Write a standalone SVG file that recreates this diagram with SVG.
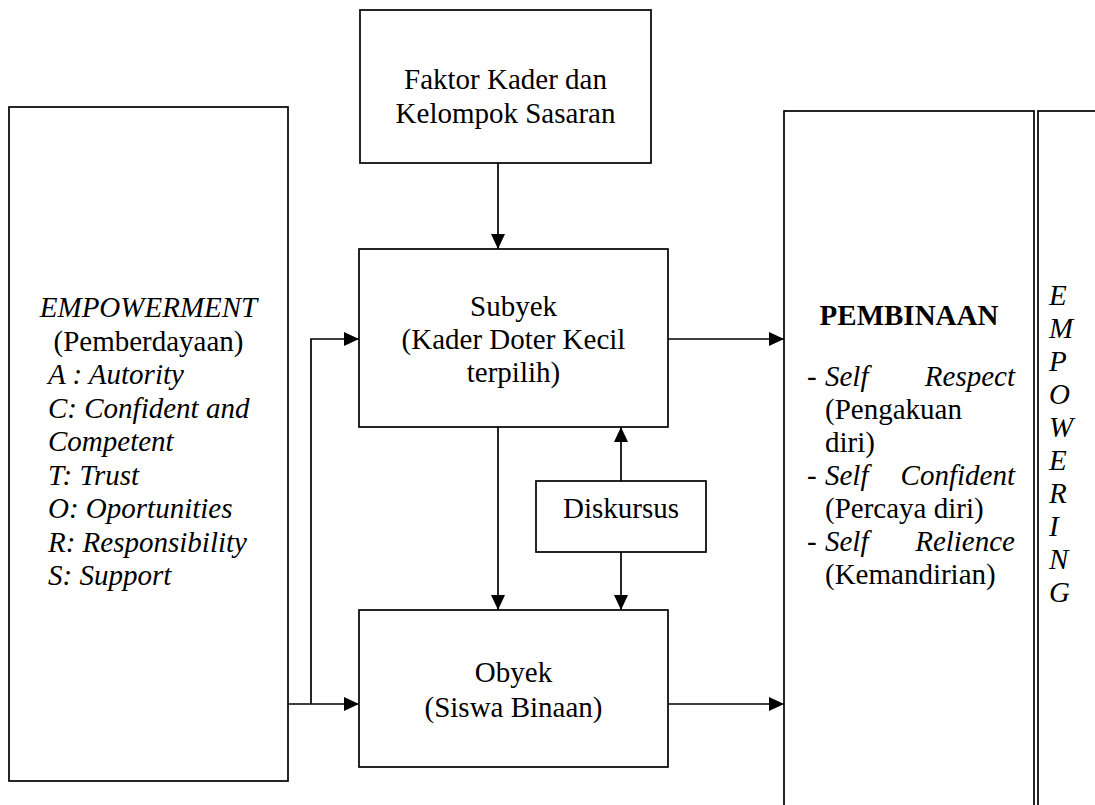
<svg xmlns="http://www.w3.org/2000/svg" width="1095" height="805" viewBox="0 0 1095 805">
<defs>
<marker id="ah" markerUnits="userSpaceOnUse" markerWidth="15" markerHeight="14" refX="15" refY="7" orient="auto">
<path d="M0,0 L15,7 L0,14 Z" fill="#000"/>
</marker>
<style>
.box{fill:#fff;stroke:#000;stroke-width:1.7}
.t{font-family:"Liberation Serif","Times New Roman",serif;font-size:29px;fill:#000}
.c{text-anchor:middle}
.i{font-style:italic}
.b{font-weight:bold}
.e{text-anchor:end}
.ln{fill:none;stroke:#000;stroke-width:1.7}
</style>
</defs>
<rect width="1095" height="805" fill="#fff"/>

<g id="empowerment">
<rect class="box" x="9" y="107" width="279" height="674"/>
<text class="t i c" x="148.5" y="317">EMPOWERMENT</text>
<text class="t c" x="148.5" y="350.5">(Pemberdayaan)</text>
<text class="t i" x="48" y="384">A : Autority</text>
<text class="t i" x="48" y="417.5">C: Confident and</text>
<text class="t i" x="48" y="451">Competent</text>
<text class="t i" x="48" y="484.5">T: Trust</text>
<text class="t i" x="48" y="518">O: Oportunities</text>
<text class="t i" x="48" y="551.5">R: Responsibility</text>
<text class="t i" x="48" y="585">S: Support</text>
</g>

<g id="faktor">
<rect class="box" x="360" y="10" width="291" height="153"/>
<text class="t c" x="505.5" y="89">Faktor Kader dan</text>
<text class="t c" x="505.5" y="123">Kelompok Sasaran</text>
</g>

<g id="subyek">
<rect class="box" x="359" y="249" width="309" height="178"/>
<text class="t c" x="513.5" y="316">Subyek</text>
<text class="t c" x="513.5" y="349">(Kader Doter Kecil</text>
<text class="t c" x="513.5" y="382">terpilih)</text>
</g>

<g id="diskursus">
<rect class="box" x="536" y="481" width="170" height="71"/>
<text class="t c" x="621" y="518">Diskursus</text>
</g>

<g id="obyek">
<rect class="box" x="359" y="610" width="309" height="157"/>
<text class="t c" x="513.5" y="682">Obyek</text>
<text class="t c" x="513.5" y="717">(Siswa Binaan)</text>
</g>

<g id="pembinaan">
<rect class="box" x="784" y="111" width="250" height="710"/>
<text class="t b c" x="909" y="325">PEMBINAAN</text>
<text class="t" x="807" y="386">-</text>
<text class="t i" x="825" y="386">Self</text>
<text class="t i e" x="1015" y="386">Respect</text>
<text class="t" x="825" y="419">(Pengakuan</text>
<text class="t" x="825" y="452">diri)</text>
<text class="t" x="807" y="485">-</text>
<text class="t i" x="825" y="485">Self</text>
<text class="t i e" x="1015" y="485">Confident</text>
<text class="t" x="825" y="518">(Percaya diri)</text>
<text class="t" x="807" y="551">-</text>
<text class="t i" x="825" y="551">Self</text>
<text class="t i e" x="1015" y="551">Relience</text>
<text class="t" x="825" y="584">(Kemandirian)</text>
</g>

<g id="empowering">
<rect class="box" x="1038" y="111" width="80" height="710"/>
<text class="t i" x="1049" y="305">E</text>
<text class="t i" x="1049" y="338">M</text>
<text class="t i" x="1049" y="371">P</text>
<text class="t i" x="1049" y="404">O</text>
<text class="t i" x="1049" y="437">W</text>
<text class="t i" x="1049" y="470">E</text>
<text class="t i" x="1049" y="503">R</text>
<text class="t i" x="1049" y="536">I</text>
<text class="t i" x="1049" y="569">N</text>
<text class="t i" x="1049" y="602">G</text>
</g>

<g id="connectors">
<line class="ln" x1="498" y1="163" x2="498" y2="249" marker-end="url(#ah)"/>
<line class="ln" x1="498" y1="427" x2="498" y2="610" marker-end="url(#ah)"/>
<line class="ln" x1="621" y1="481" x2="621" y2="427" marker-end="url(#ah)"/>
<line class="ln" x1="621" y1="552" x2="621" y2="610" marker-end="url(#ah)"/>
<line class="ln" x1="288" y1="704" x2="359" y2="704" marker-end="url(#ah)"/>
<polyline class="ln" points="311,704 311,339 359,339" marker-end="url(#ah)"/>
<line class="ln" x1="668" y1="339" x2="784" y2="339" marker-end="url(#ah)"/>
<line class="ln" x1="668" y1="704" x2="784" y2="704" marker-end="url(#ah)"/>
</g>
</svg>
